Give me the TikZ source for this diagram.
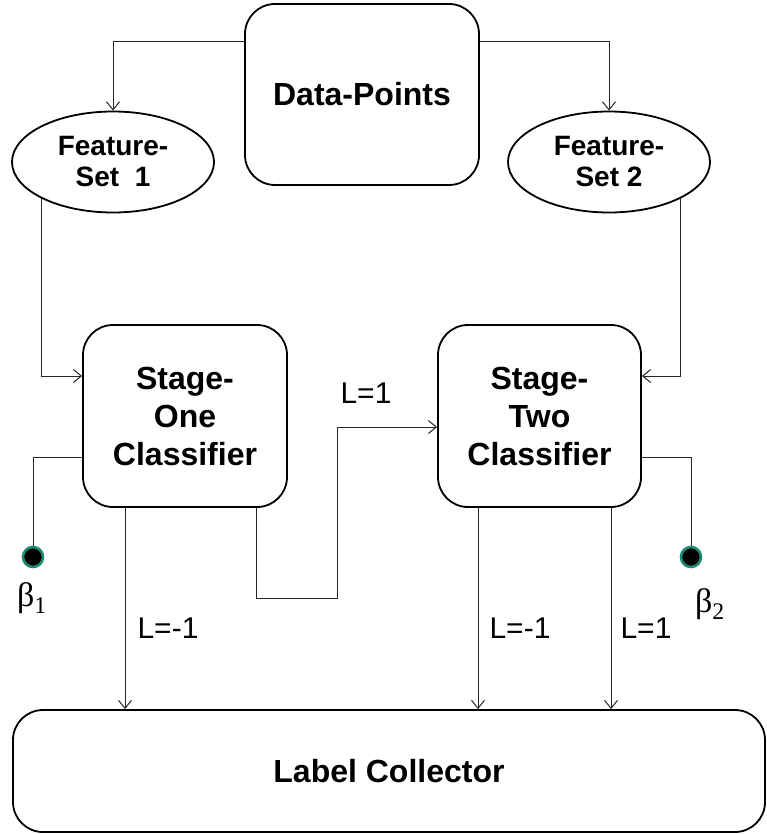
\documentclass[tikz,border=0pt]{standalone}
\usepackage{fontspec}
\setmainfont{Liberation Sans}
\newfontfamily\betafont{Liberation Serif}
\usetikzlibrary{shapes.geometric,arrows.meta}
\definecolor{ringgreen}{RGB}{28,140,112}
\begin{document}
\begin{tikzpicture}[x=1pt,y=-1pt,box/.style={shape=rectangle,rounded corners=30pt,draw=black,line width=1.8pt,inner sep=0pt,align=center,font=\fontsize{32}{38}\selectfont\bfseries},feat/.style={shape=ellipse,draw=black,line width=1.8pt,inner sep=0pt,minimum width=202pt,minimum height=101pt,align=center,font=\fontsize{28}{31}\selectfont\bfseries},conn/.style={line width=1pt,draw=black!85},arr/.style={conn,-{Straight Barb[length=8pt,width=13pt]}},lab/.style={font=\fontsize{30}{30}\selectfont},dotb/.style={shape=circle,fill=black,draw=ringgreen,line width=2.6pt,minimum size=20pt,inner sep=0pt},betal/.style={font=\betafont\fontsize{34}{34}\selectfont}]
\def\ya{42};
\def\yb{376};
\def\yc{457};
\def\yd{598};
\def\ye{427};

\useasboundingbox (0,0) rectangle (766,834);

\node[box,minimum width=234pt,minimum height=181pt] (DP) at (362,94.5) {Data-Points};
\node[feat] (FS1) at (113,162) {Feature-\\Set\ \ 1};
\node[feat] (FS2) at (609,162) {Feature-\\Set 2};
\node[box,minimum width=204pt,minimum height=182pt] (S1) at (185,416) {Stage-\\One\\Classifier};
\node[box,minimum width=203pt,minimum height=182pt] (S2) at (539.5,416) {Stage-\\Two\\Classifier};
\node[box,minimum width=752pt,minimum height=122pt] (LC) at (389,771) {Label Collector};

\draw[arr] (DP.west |- 0,\ya) -| (FS1.north);
\draw[arr] (DP.east |- 0,\ya) -| (FS2.north);
\draw[arr] (FS1.207) |- (S1.west |- 0,\yb);
\draw[arr] (FS2.333) |- (S2.east |- 0,\yb);

\draw[arr] (S1.south -| 125,0) -- (LC.north -| 125,0);
\node[lab] (L1) at (168,628) {L=-1};
\draw[arr] (S1.south -| 256,0) |- (337,\yd) |- (S2.west |- 0,\ye);
\node[lab] (L2) at (366,393) {L=1};
\draw[arr] (S2.south -| 478,0) -- (LC.north -| 478,0);
\node[lab] (L3) at (520,628) {L=-1};
\draw[arr] (S2.south -| 611,0) -- (LC.north -| 611,0);
\node[lab] (L4) at (646,628) {L=1};

\node[dotb] (B1) at (33,557) {};
\node[betal] (B1l) at (32,598) {β\textsubscript{1}};
\draw[conn] (S1.west |- 0,\yc) -| (B1.north);
\node[dotb] (B2) at (691,557) {};
\node[betal] (B2l) at (710,604) {β\textsubscript{2}};
\draw[conn] (S2.east |- 0,\yc) -| (B2.north);
\end{tikzpicture}
\end{document}
